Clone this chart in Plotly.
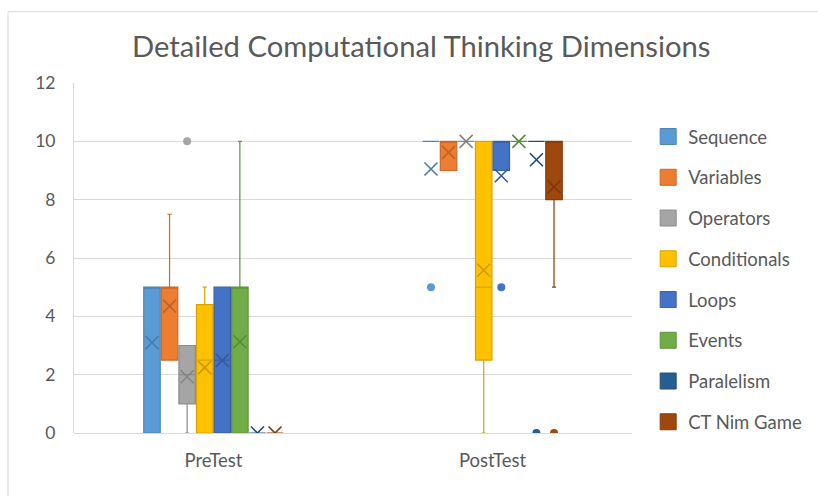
import plotly.graph_objects as go

# Box-and-whisker summary of CT test scores per dimension
tests = ["PreTest", "PostTest"]
dimensions = ["Sequence", "Variables", "Operators", "Conditionals",
              "Loops", "Events", "Paralelism", "CT Nim Game"]
colors = ["#5B9BD5", "#ED7D31", "#A5A5A5", "#FFC000",
          "#4472C4", "#70AD47", "#255E91", "#9E480E"]

pre_min = [0, 2.5, 0, 0, 0, 0, 0, 0]
pre_q1 = [0, 2.5, 1, 0, 0, 0, 0, 0]
pre_median = [5, 5, 2, 2.5, 2.5, 5, 0, 0]
pre_q3 = [5, 5, 3, 4.4, 5, 5, 0, 0]
pre_max = [5, 7.5, 3, 5, 5, 10, 0, 0]
pre_mean = [3.1, 4.35, 1.93, 2.24, 2.49, 3.13, 0, 0]
pre_outliers = [[], [], [10], [], [], [], [], []]

post_min = [10, 9, 10, 0, 9, 10, 10, 5]
post_q1 = [10, 9, 10, 2.5, 9, 10, 10, 8]
post_median = [10, 10, 10, 5, 10, 10, 10, 10]
post_q3 = [10, 10, 10, 10, 10, 10, 10, 10]
post_max = [10, 10, 10, 10, 10, 10, 10, 10]
post_mean = [9.05, 9.62, 10, 5.58, 8.82, 10, 9.37, 8.44]
post_outliers = [[5], [], [], [], [5], [], [0], [0]]

stats = {
    0: (pre_min, pre_q1, pre_median, pre_q3, pre_max, pre_mean, pre_outliers),
    1: (post_min, post_q1, post_median, post_q3, post_max, post_mean, post_outliers),
}

SLOT = 0.063      # horizontal spacing between boxes within a test group
BOX_W = 0.059     # box width in category units


def darker(hex_color, f=0.8):
    h = hex_color.lstrip("#")
    r, g, b = (int(h[i:i + 2], 16) for i in (0, 2, 4))
    return "#{:02X}{:02X}{:02X}".format(int(r * f), int(g * f), int(b * f))


fig = go.Figure()
n = len(dimensions)
for i, (dim, col) in enumerate(zip(dimensions, colors)):
    edge = darker(col, 0.85)
    mark = darker(col, 0.8)
    for t in (0, 1):
        lo, q1, med, q3, hi, mean, outl = stats[t]
        pos = t + (i - (n - 1) / 2) * SLOT
        fig.add_trace(go.Box(
            x=[pos], q1=[q1[i]], median=[med[i]], q3=[q3[i]],
            lowerfence=[lo[i]], upperfence=[hi[i]],
            width=BOX_W, whiskerwidth=0.25,
            fillcolor=col, line=dict(color=edge, width=1.2),
            boxpoints=False, showlegend=False, hoverinfo="skip",
        ))
        # mean marker
        fig.add_trace(go.Scatter(
            x=[pos], y=[mean[i]], mode="markers", showlegend=False,
            marker=dict(symbol="x-thin-open", size=13, color=mark,
                        line=dict(color=mark, width=1.6)),
            hoverinfo="skip",
        ))
        if outl[i]:
            fig.add_trace(go.Scatter(
                x=[pos] * len(outl[i]), y=outl[i], mode="markers",
                showlegend=False,
                marker=dict(symbol="circle", size=8, color=col,
                            line=dict(width=0)),
                hoverinfo="skip",
            ))
    # legend swatch
    fig.add_trace(go.Scatter(
        x=[None], y=[None], mode="markers", name=dim, legendgroup=dim,
        marker=dict(symbol="square", size=16, color=col,
                    line=dict(color=edge, width=1)),
    ))

# chart-area frame
fig.add_shape(type="line", xref="paper", yref="paper",
              x0=(8 - 74) / 558, x1=(818 - 74) / 558,
              y0=(433.3 - 12) / 350, y1=(433.3 - 12) / 350,
              line=dict(color="#D9D9D9", width=1))
fig.add_shape(type="line", xref="paper", yref="paper",
              x0=(8 - 74) / 558, x1=(8 - 74) / 558,
              y0=(433.3 - 12) / 350, y1=(433.3 - 500) / 350,
              line=dict(color="#D9D9D9", width=1))

fig.update_layout(
    width=818, height=496,
    margin=dict(l=74, r=186, t=83, b=63, autoexpand=False),
    paper_bgcolor="white", plot_bgcolor="white",
    font=dict(family="Lato, Carlito, sans-serif", color="#595959", size=17),
    title=dict(text="Detailed Computational Thinking Dimensions",
               xref="container", x=0.515, xanchor="center",
               yref="container", y=1 - 47 / 496, yanchor="middle",
               font=dict(size=29.2, color="#595959")),
    xaxis=dict(range=[-0.5, 1.5], tickvals=[0, 1], ticktext=tests,
               showgrid=False, zeroline=False, showline=False, ticks="",
               tickfont=dict(size=18.5), ticklabelstandoff=14),
    yaxis=dict(range=[0, 12], dtick=2, gridcolor="#D9D9D9", gridwidth=1,
               zeroline=True, zerolinecolor="#D9D9D9", zerolinewidth=1,
               showline=True, linecolor="#D9D9D9", ticks="",
               tickfont=dict(size=17.5), ticklabelstandoff=14),
    legend=dict(x=1.029, xanchor="left", y=0.9, yanchor="top",
                traceorder="grouped", tracegroupgap=13.7,
                itemwidth=30, font=dict(size=18.5, color="#595959")),
    showlegend=True,
)

fig.write_html("out.html")
